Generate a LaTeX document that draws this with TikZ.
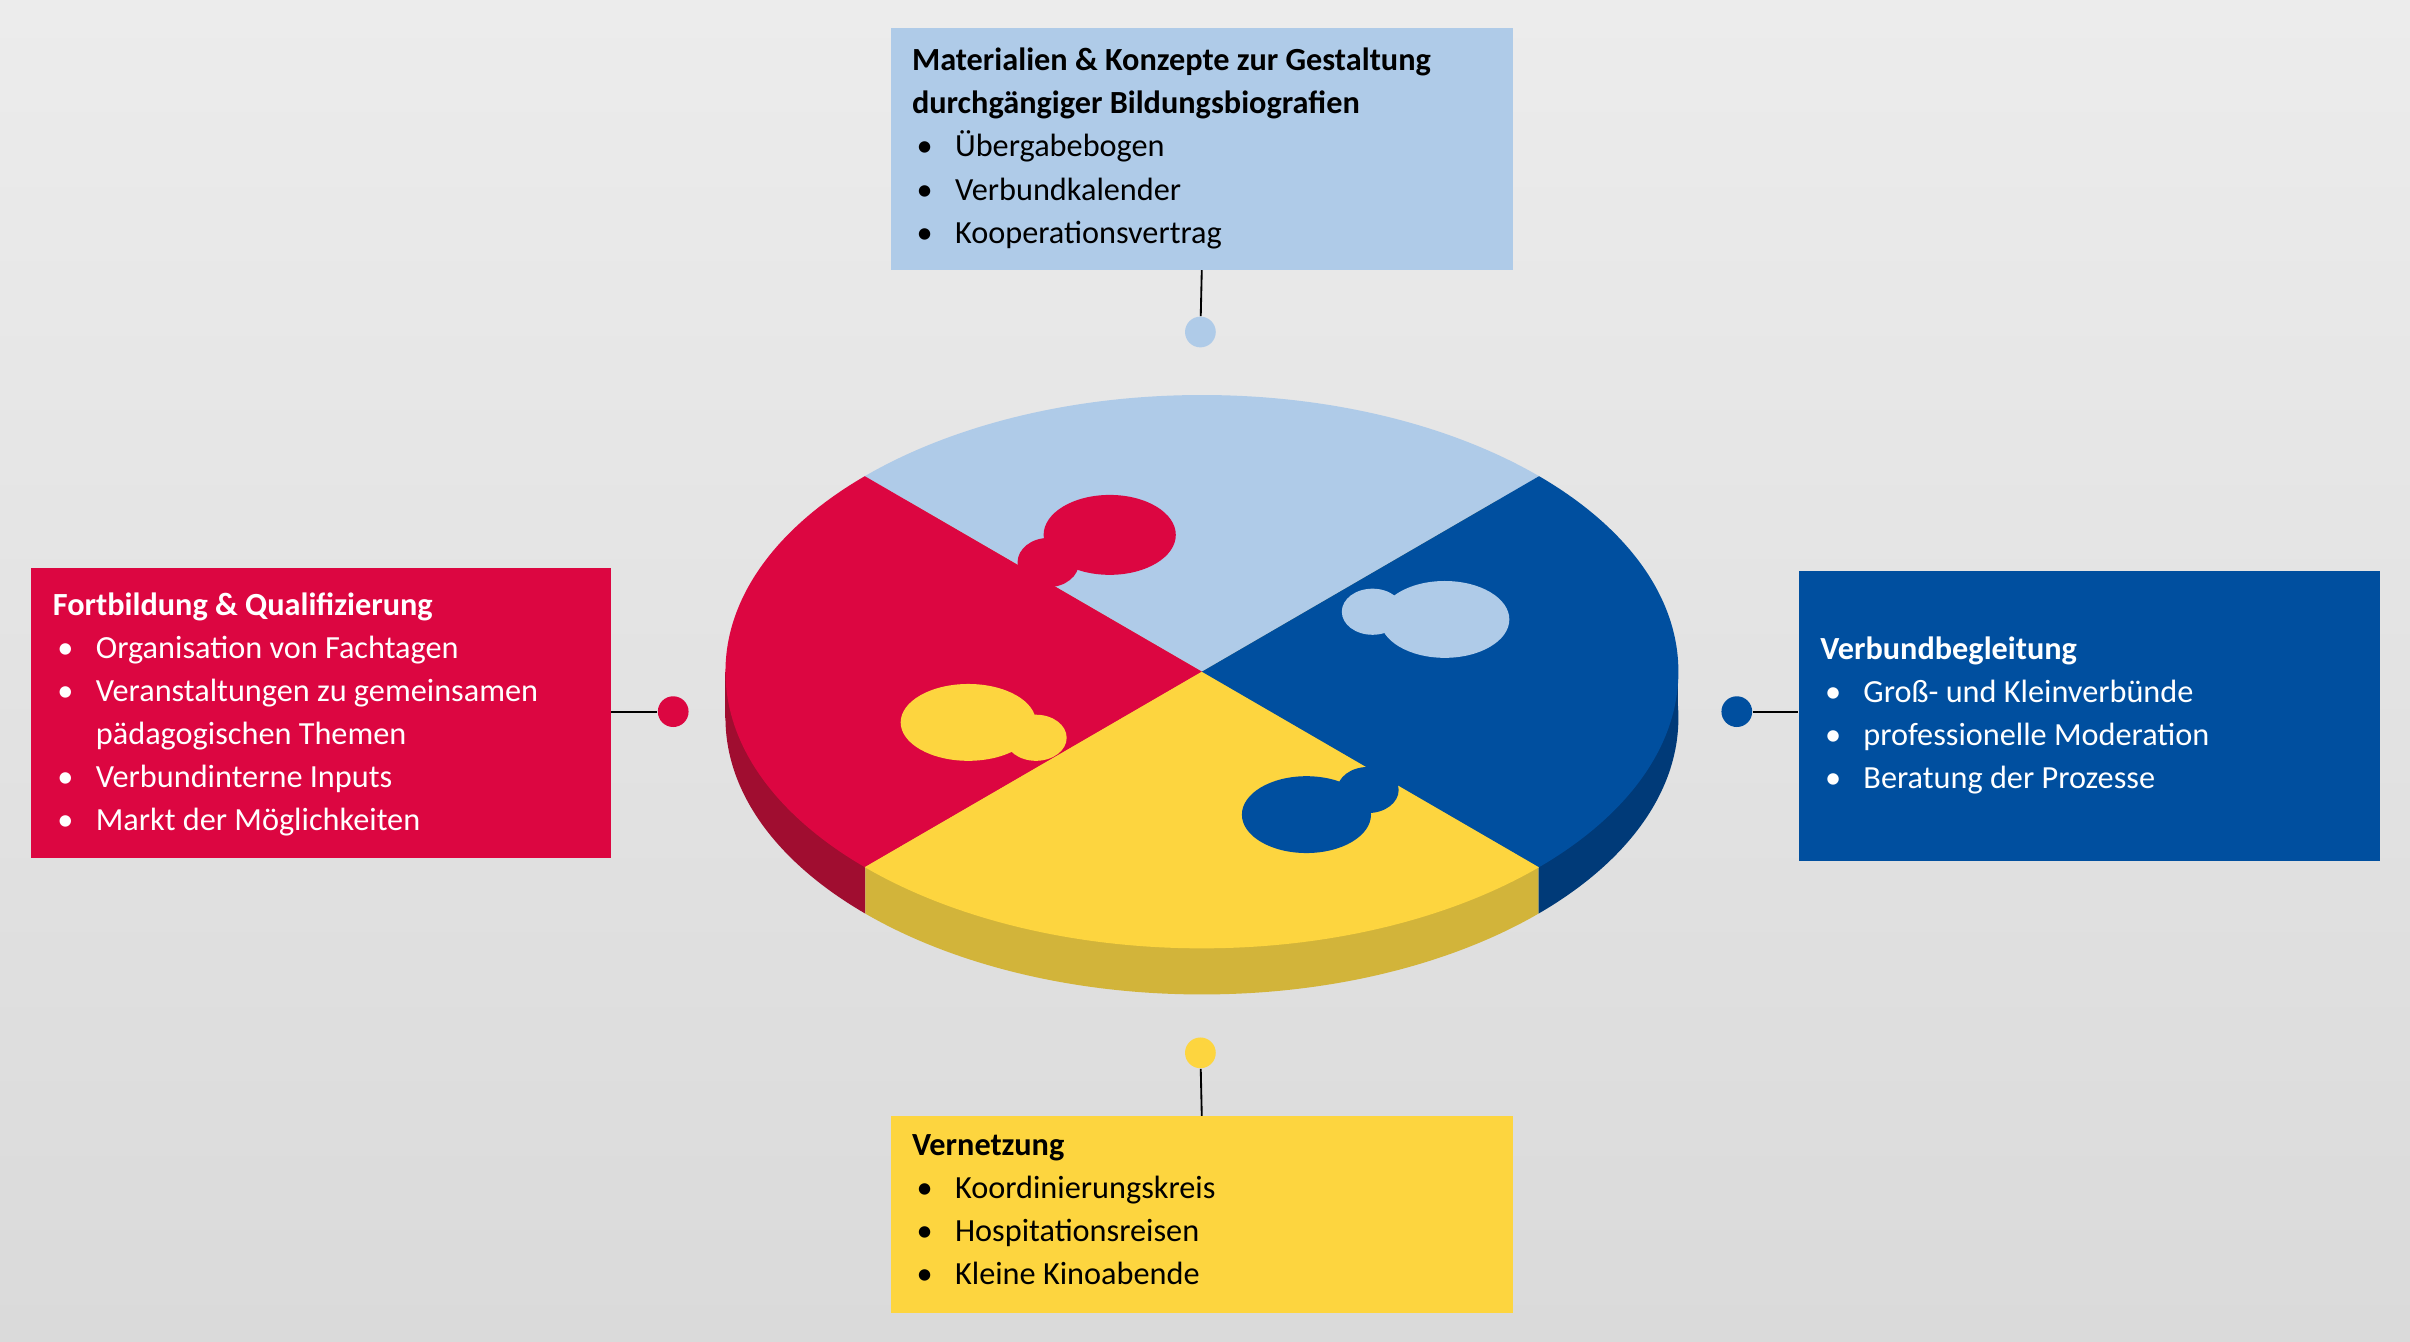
\documentclass[tikz,border=0pt]{standalone}
\usepackage{fontspec}
\setmainfont{Carlito}
\definecolor{lb}{HTML}{AFCBE8}
\definecolor{rd}{HTML}{DC0641}
\definecolor{db}{HTML}{004F9F}
\definecolor{ye}{HTML}{FDD53F}
\definecolor{rds}{HTML}{A00D30}
\definecolor{dbs}{HTML}{003A78}
\definecolor{yes}{HTML}{D2B43A}
\newcommand\bul[1]{\makebox[14pt][l]{\hspace{1.5pt}\textbullet}#1\\}
\newcommand\cont[1]{\makebox[14pt][l]{}#1\\}
\tikzset{box/.style={rectangle,inner sep=0pt,anchor=north west},
 txt/.style={anchor=north west,inner sep=0pt,align=left,font=\fontsize{10.5}{14}\selectfont},
 dot/.style={circle,inner sep=0pt,minimum size=10pt},
 con/.style={draw=black,line width=0.6pt}}
\begin{document}
\begin{tikzpicture}[x=0.5pt,y=-0.5pt]
\useasboundingbox (0,0) rectangle (1568,873);
\shade[top color={rgb,255:red,236;green,236;blue,236},bottom color={rgb,255:red,218;green,218;blue,218}] (0,0) rectangle (1568,873);
% sides
\begin{scope}\clip (0,0) rectangle (563,873);
\fill[rds] (782,467) ellipse [x radius=310,y radius=180]; \fill[rds] (472,437) rectangle (1092,467);\end{scope}
\begin{scope}\clip (563,0) rectangle (1001,873);
\fill[yes] (782,467) ellipse [x radius=310,y radius=180]; \fill[yes] (472,437) rectangle (1092,467);\end{scope}
\begin{scope}\clip (1001,0) rectangle (1568,873);
\fill[dbs] (782,467) ellipse [x radius=310,y radius=180]; \fill[dbs] (472,437) rectangle (1092,467);\end{scope}
% top
\begin{scope}\clip (782,437) ellipse [x radius=310,y radius=180];
\fill[lb] (782,437)--(344,183)--(1220,183)--cycle;
\fill[rd] (782,437)--(344,183)--(344,691)--cycle;
\fill[ye] (782,437)--(344,691)--(1220,691)--cycle;
\fill[db] (782,437)--(1220,691)--(1220,183)--cycle;
\end{scope}
% tabs
\fill[rd] (722,348) ellipse [x radius=43,y radius=26];
\fill[rd] (682,366) ellipse [x radius=20,y radius=16];
\fill[lb] (940,403) ellipse [x radius=42,y radius=25];
\fill[lb] (893,398) ellipse [x radius=20,y radius=15];
\fill[db] (850,530) ellipse [x radius=42,y radius=25];
\fill[db] (890,514) ellipse [x radius=20,y radius=15];
\fill[ye] (630,470) ellipse [x radius=44,y radius=25];
\fill[ye] (674,480) ellipse [x radius=20,y radius=15];
% boxes
\node[box,fill=lb,minimum width=202.5pt,minimum height=78.5pt] (bt) at (579,18) {};
\node[box,fill=rd,minimum width=188.5pt,minimum height=94.5pt] (bl) at (20,369) {};
\node[box,fill=db,minimum width=189pt,minimum height=94.5pt] (br) at (1170,371) {};
\node[box,fill=ye,minimum width=202.5pt,minimum height=64pt] (bb) at (579,726) {};
\node[dot,fill=lb] (dt) at (781,216) {};
\node[dot,fill=rd] (dl) at (438,463) {};
\node[dot,fill=db] (dr) at (1130,463) {};
\node[dot,fill=ye] (db) at (781,685) {};
\draw[con] (bt.south) -- (dt);
\draw[con] (dl) -- (dl -| bl.east);
\draw[con] (dr) -- (dr -| br.west);
\draw[con] (db) -- (bb.north);
% texts
\node[txt,text=black] (tt) at (593,31) {\textbf{Materialien \& Konzepte zur Gestaltung}\\\textbf{durchgängiger Bildungsbiografien}\\\bul{Übergabebogen}\bul{Verbundkalender}\bul{Kooperationsvertrag}};
\node[txt,text=white] (tl) at (34,385) {\textbf{Fortbildung \& Qualifizierung}\\\bul{Organisation von Fachtagen}\bul{Veranstaltungen zu gemeinsamen}\cont{pädagogischen Themen}\bul{Verbundinterne Inputs}\bul{Markt der Möglichkeiten}};
\node[txt,text=white] (tr) at (1184,414) {\textbf{Verbundbegleitung}\\\bul{Groß- und Kleinverbünde}\bul{professionelle Moderation}\bul{Beratung der Prozesse}};
\node[txt,text=black] (tb) at (593,738) {\textbf{Vernetzung}\\\bul{Koordinierungskreis}\bul{Hospitationsreisen}\bul{Kleine Kinoabende}};
\end{tikzpicture}
\end{document}
